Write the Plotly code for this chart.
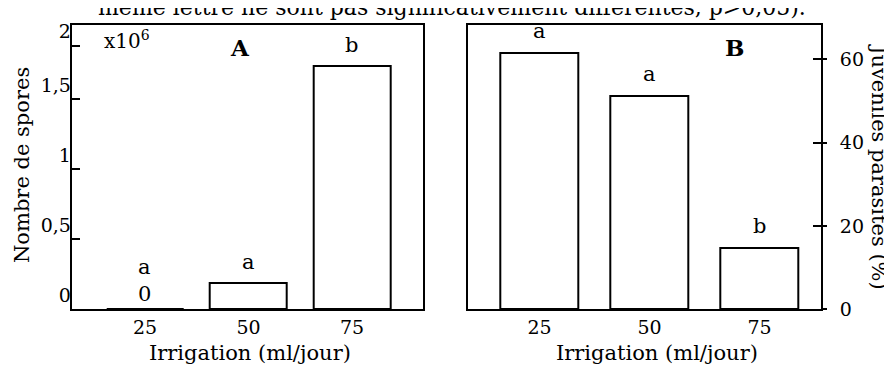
import plotly.graph_objects as go

# ---- data ----
irrigation = ["25", "50", "75"]
spores = [0.0, 0.19, 1.74]            # Nombre de spores (x10^6)
spores_letters = ["a", "a", "b"]
parasites = [61.6, 51.3, 14.7]         # Juvéniles parasités (%)
parasites_letters = ["a", "a", "b"]
spores_tickvals = [0, 0.5, 1, 1.5, 1.88]
spores_ticktext = ["0", "0,5", "1", "1,5", "2"]
para_tickvals = [0, 20, 40, 60]
para_ticktext = ["0", "20", "40", "60"]

OFF = 8                      # page body margin
W, H = 892 - OFF, 365 - OFF
FONT = "DejaVu Serif"


def px(x):
    return (x - OFF) / W


def py(y):
    return 1 - (y - OFF) / H


fig = go.Figure()
fig.add_trace(go.Bar(x=irrigation, y=spores, xaxis="x", yaxis="y", width=0.744,
                     marker=dict(color="white", line=dict(color="black", width=2)),
                     showlegend=False, hoverinfo="skip"))
fig.add_trace(go.Bar(x=irrigation, y=parasites, xaxis="x2", yaxis="y2", width=0.71,
                     marker=dict(color="white", line=dict(color="black", width=2)),
                     showlegend=False, hoverinfo="skip"))
# empty helper trace so the overlaid tick axis (outer half of crossing ticks) is drawn
fig.add_trace(go.Scatter(x=[], y=[], xaxis="x2", yaxis="y3", showlegend=False,
                         hoverinfo="skip"))

ydom = [py(309.3), py(25)]
axis_common = dict(showline=True, linecolor="black", linewidth=2, showgrid=False,
                   zeroline=False, automargin=False,
                   tickfont=dict(family=FONT, size=19, color="black"))

fig.update_layout(
    template="none",
    width=W, height=H, margin=dict(l=0, r=0, t=0, b=0, pad=0),
    paper_bgcolor="white", plot_bgcolor="white",
    font=dict(family=FONT, color="black"),
    bargap=0,
    xaxis=dict(domain=[px(71.7), px(423)], range=[-0.708, 2.686], type="category",
               anchor="y", mirror=True, ticks="", ticklabelstandoff=0, **axis_common),
    yaxis=dict(domain=ydom, range=[0, 2.031], anchor="x", mirror=True,
               ticks="inside", ticklen=8, tickwidth=2, tickcolor="black",
               tickvals=spores_tickvals, ticktext=spores_ticktext,
               ticklabelposition="outside top", ticklabelstandoff=-5, **axis_common),
    xaxis2=dict(domain=[px(468.3), px(821)], range=[-0.647, 2.559], type="category",
                anchor="y2", mirror=True, ticks="", ticklabelstandoff=0, **axis_common),
    yaxis2=dict(domain=ydom, range=[0, 68.24], anchor="x2", side="right", mirror=True,
                ticks="inside", ticklen=8, tickwidth=2, tickcolor="black",
                tickvals=para_tickvals, ticktext=para_ticktext,
                showticklabels=False, **axis_common),
    yaxis3=dict(domain=ydom, range=[0, 68.24], anchor="x2", side="right",
                overlaying="y2", ticks="outside", ticklen=4, tickwidth=2, tickcolor="black",
                tickvals=para_tickvals, ticktext=para_ticktext,
                ticklabelstandoff=9, **axis_common),
)

ann = []
# letters above bars, panel A
for i, (v, let) in enumerate(zip(spores, spores_letters)):
    extra = 21 if v == 0 else 0
    ann.append(dict(x=i, y=v, xref="x", yref="y", text=let, showarrow=False,
                    xanchor="center", yanchor="middle", yshift=21 + extra,
                    font=dict(family=FONT, size=21, color="black")))
    if v == 0:
        ann.append(dict(x=i, y=v, xref="x", yref="y", text="0", showarrow=False,
                        xanchor="center", yanchor="middle", yshift=15,
                        font=dict(family=FONT, size=21, color="black")))
# letters above bars, panel B
for i, (v, let) in enumerate(zip(parasites, parasites_letters)):
    ann.append(dict(x=i, y=v, xref="x2", yref="y2", text=let, showarrow=False,
                    xanchor="center", yanchor="middle", yshift=22,
                    font=dict(family=FONT, size=21, color="black")))


def label(x, y, text, size=21, angle=0, xanchor="center", yanchor="middle"):
    return dict(x=px(x), y=py(y), xref="paper", yref="paper", text=text,
                showarrow=False, textangle=angle, xanchor=xanchor, yanchor=yanchor,
                font=dict(family=FONT, size=size, color="black"))


ann += [
    label(240, 47, "<b>A</b>", size=23),
    label(734, 47, "<b>B</b>", size=23),
    label(102, 40, "x10<sup>6</sup>", size=20, xanchor="left"),
    label(22, 165, "Nombre de spores", angle=-90),
    label(879, 167, "Juvéniles parasités (%)", angle=90),
    label(250, 353, "Irrigation (ml/jour)"),
    label(657, 353, "Irrigation (ml/jour)"),
    label(452, 22, "même lettre ne sont pas significativement différentes, p>0,05).",
          size=22, yanchor="bottom"),
]
fig.update_layout(annotations=ann)

fig.write_html("out.html")
